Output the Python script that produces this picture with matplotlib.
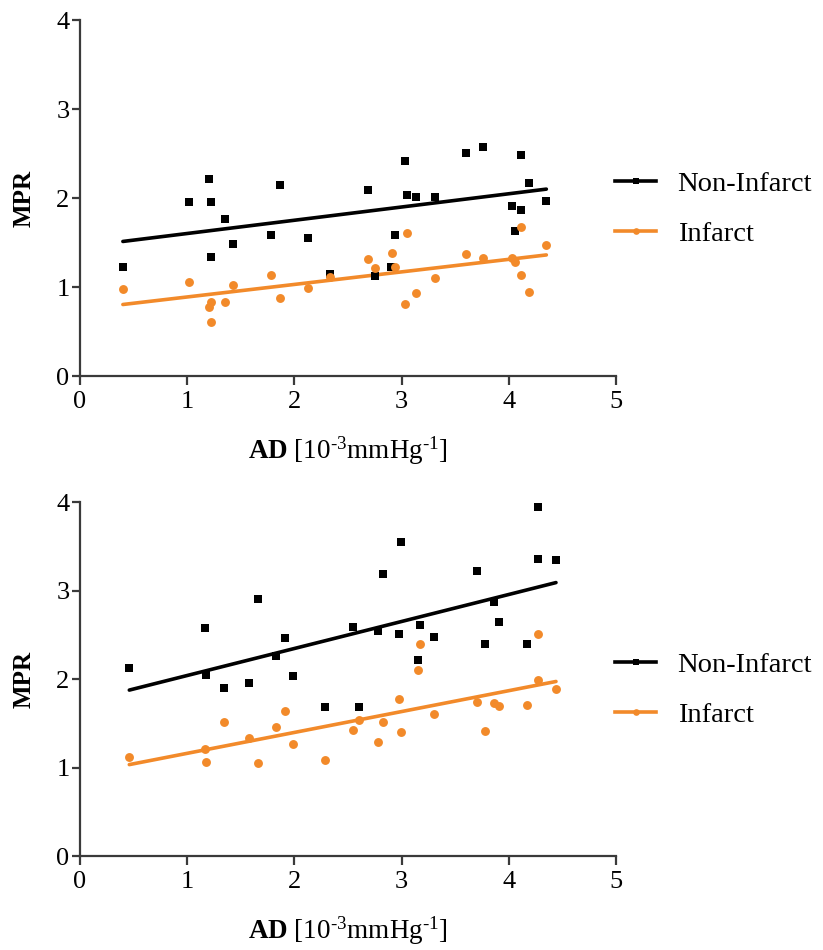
import numpy as np
import matplotlib
matplotlib.use("Agg")
import matplotlib.pyplot as plt

plt.rcParams['font.family'] = ['Liberation Serif', 'DejaVu Serif']
plt.rcParams['mathtext.fontset'] = 'custom'
plt.rcParams['mathtext.rm'] = 'Liberation Serif'
plt.rcParams['mathtext.bf'] = 'Liberation Serif:bold'
plt.rcParams['mathtext.it'] = 'Liberation Serif:italic'

# Panel 1: MPR vs AD
top_ad_non = [0.40, 1.02, 1.20, 1.22, 1.35, 1.43, 1.22, 1.87, 1.78, 2.13, 2.33,
              2.69, 3.03, 3.05, 3.13, 3.31, 2.94, 2.90, 2.75, 3.60, 3.76, 4.11,
              4.19, 4.03, 4.11, 4.06, 4.35]
top_mpr_non = [1.22, 1.95, 2.21, 1.95, 1.76, 1.48, 1.34, 2.15, 1.58, 1.55, 1.15,
               2.09, 2.42, 2.03, 2.01, 2.01, 1.58, 1.22, 1.12, 2.51, 2.57, 2.48,
               2.17, 1.91, 1.87, 1.63, 1.97]
top_ad_inf = [0.40, 1.02, 1.22, 1.20, 1.22, 1.35, 1.43, 1.78, 1.87, 2.13, 2.33,
              2.69, 2.75, 2.91, 2.94, 3.05, 3.03, 3.13, 3.31, 3.60, 3.76, 4.03,
              4.06, 4.11, 4.11, 4.19, 4.35]
top_mpr_inf = [0.98, 1.06, 0.83, 0.78, 0.61, 0.83, 1.02, 1.13, 0.88, 0.99, 1.11,
               1.32, 1.21, 1.38, 1.22, 1.61, 0.81, 0.93, 1.10, 1.37, 1.33, 1.33,
               1.28, 1.67, 1.13, 0.94, 1.47]

# Panel 2: MPR vs AD
bot_ad_non = [0.46, 1.17, 1.18, 1.34, 1.58, 1.66, 1.91, 1.83, 1.99, 2.29,
              2.55, 2.78, 2.83, 2.99, 2.98, 3.17, 3.15, 3.30, 2.60, 3.70, 3.86,
              3.91, 3.78, 4.17, 4.27, 4.27, 4.44]
bot_mpr_non = [2.13, 2.58, 2.05, 1.90, 1.95, 2.90, 2.46, 2.26, 2.03, 1.68,
               2.59, 2.54, 3.19, 3.55, 2.51, 2.61, 2.21, 2.48, 1.68, 3.22, 2.87,
               2.65, 2.40, 2.40, 3.94, 3.36, 3.34]
bot_ad_inf = [0.46, 1.17, 1.18, 1.34, 1.58, 1.66, 1.83, 1.91, 1.99, 2.29,
              2.55, 2.60, 2.78, 2.83, 2.98, 2.99, 3.15, 3.17, 3.30, 3.70, 3.78,
              3.86, 3.91, 4.17, 4.27, 4.27, 4.44]
bot_mpr_inf = [1.12, 1.21, 1.06, 1.52, 1.33, 1.05, 1.46, 1.64, 1.27, 1.09,
               1.42, 1.54, 1.29, 1.52, 1.77, 1.40, 2.10, 2.40, 1.61, 1.74, 1.41,
               1.73, 1.69, 1.71, 2.51, 1.99, 1.89]

series_labels = ["Non-Infarct", "Infarct"]
x_ticks = [0, 1, 2, 3, 4, 5]
y_ticks = [0, 1, 2, 3, 4]

BLACK = "#000000"
ORANGE = "#F28A2A"
SPINE = "#3a3a3a"

fig = plt.figure(figsize=(8.23, 9.5), dpi=100)

panels = [
    ([0.0972, 0.6042, 0.6513, 0.3747], top_ad_non, top_mpr_non, top_ad_inf, top_mpr_inf),
    ([0.0972, 0.0989, 0.6513, 0.3726], bot_ad_non, bot_mpr_non, bot_ad_inf, bot_mpr_inf),
]

for rect, xn, yn, xi, yi in panels:
    ax = fig.add_axes(rect)
    for xs, ys, color, marker, ms, label in [
        (xn, yn, BLACK, 's', 6.0, series_labels[0]),
        (xi, yi, ORANGE, 'o', 6.4, series_labels[1]),
    ]:
        xs = np.asarray(xs)
        ys = np.asarray(ys)
        ax.plot(xs, ys, linestyle='none', marker=marker, color=color,
                markersize=ms, markeredgewidth=0, zorder=3)
        slope, intercept = np.polyfit(xs, ys, 1)
        xf = np.array([xs.min(), xs.max()])
        ax.plot(xf, slope * xf + intercept, color=color, linewidth=2.6,
                solid_capstyle='round', zorder=2)
        # legend handle: line with a small marker
        ax.plot([], [], color=color, linewidth=2.6, marker=marker,
                markersize=ms * 0.75, markeredgewidth=0, label=label)

    ax.set_xlim(0, 5)
    ax.set_ylim(0, 4)
    ax.set_xticks(x_ticks)
    ax.set_yticks(y_ticks)
    for s in ['top', 'right']:
        ax.spines[s].set_visible(False)
    for s in ['left', 'bottom']:
        ax.spines[s].set_color(SPINE)
        ax.spines[s].set_linewidth(1.6)
    ax.tick_params(axis='x', direction='out', length=6.5, width=1.6,
                   color=SPINE, labelsize=19, pad=4)
    ax.tick_params(axis='y', direction='out', length=6, width=1.6,
                   color=SPINE, labelsize=19, pad=1.5)
    ax.set_ylabel("MPR", fontsize=18, fontweight='bold', labelpad=15)
    ax.set_xlabel(r"$\mathbf{AD}$ [10$^{\text{-3}}$mmHg$^{\text{-1}}$]",
                  fontsize=19.5, labelpad=16)
    ax.legend(loc='center left', bbox_to_anchor=(0.998, 0.47), frameon=False,
              fontsize=20.5, handlelength=1.45, handletextpad=0.75,
              labelspacing=0.85, borderaxespad=0, borderpad=0)

fig.savefig("out.png", dpi=100)
